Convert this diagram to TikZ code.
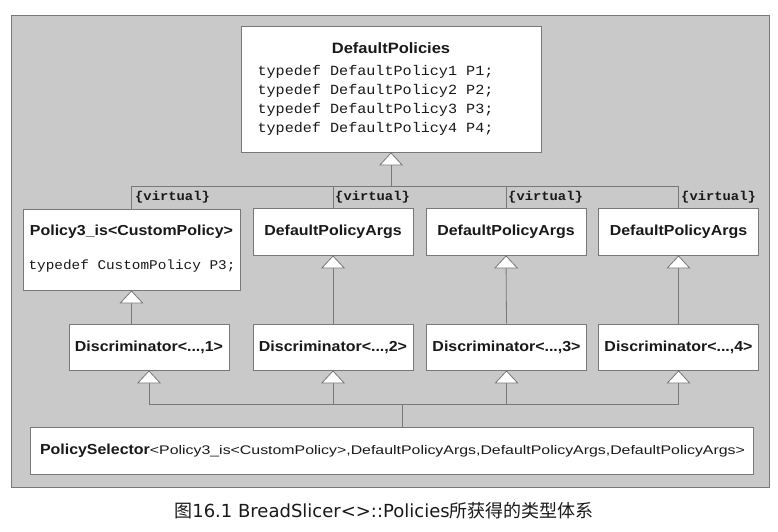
\documentclass[tikz,border=0pt]{standalone}
\usepackage{fontspec}
\usepackage{graphicx}
\setmainfont{Liberation Sans}[FakeStretch=1.1]
\newfontfamily\codefont{Liberation Mono}[FakeStretch=1.08]
\newfontfamily\capfont{DejaVu Sans}
\newfontfamily\cjkfont{Noto Sans CJK SC}
\usetikzlibrary{arrows.meta}
\definecolor{panelgray}{RGB}{201,201,201}
\definecolor{linegray}{RGB}{120,120,120}
\definecolor{textdark}{RGB}{25,25,25}

\begin{document}
\begin{tikzpicture}[x=1pt,y=-1pt,
    cls/.style={draw=linegray, fill=white, line width=0.8pt, inner sep=0pt,
      font=\fontsize{14.5}{17}\selectfont\bfseries, text=textdark},
    code/.style={inner sep=0pt, align=left, text=textdark},
    inherit/.style={draw=linegray, line width=0.8pt,
      -{Triangle[length=13pt,width=24pt,fill=white]}},
    link/.style={draw=linegray, line width=0.8pt},
    virt/.style={anchor=west, inner sep=0pt, text=textdark,
      font=\codefont\bfseries\fontsize{12.8}{14}\selectfont}]
    \useasboundingbox (0,0) rectangle (778,531);
    \draw[linegray, fill=panelgray, line width=0.6pt] (11,15) rectangle (769,487);

    % classes
    \node[cls, minimum width=300pt, minimum height=126pt] (top) at (391,89) {};
    \node[cls, draw=none, fill=none, font=\fontsize{15}{17}\selectfont\bfseries] (toptitle) at (391,48) {DefaultPolicies};
    \node[code, font=\codefont\fontsize{14}{19}\selectfont] (topcode) at (375.5,100.5)
      {typedef DefaultPolicy1 P1;\\typedef DefaultPolicy2 P2;\\
       typedef DefaultPolicy3 P3;\\typedef DefaultPolicy4 P4;};

    \node[cls, minimum width=217pt, minimum height=81pt] (pol3) at (131.5,249.5) {};
    \node[cls, draw=none, fill=none] (pol3title) at (131.5,232) {Policy3\_is<CustomPolicy>};
    \node[code, font=\codefont\fontsize{13.3}{16}\selectfont] (pol3code) at (132,266)
      {typedef CustomPolicy P3;};
    \node[cls, minimum width=160pt, minimum height=47pt] (args2) at (333,231.5) {DefaultPolicyArgs};
    \node[cls, minimum width=160pt, minimum height=47pt] (args3) at (506,231.5) {DefaultPolicyArgs};
    \node[cls, minimum width=160pt, minimum height=47pt] (args4) at (678.5,231.5) {DefaultPolicyArgs};

    \node[cls, minimum width=160pt, minimum height=46pt] (disc1) at (149,347) {Discriminator<...,1>};
    \node[cls, minimum width=160pt, minimum height=46pt] (disc2) at (333,347) {Discriminator<...,2>};
    \node[cls, minimum width=160pt, minimum height=46pt] (disc3) at (506.5,347) {Discriminator<...,3>};
    \node[cls, minimum width=160pt, minimum height=46pt] (disc4) at (678.5,347) {Discriminator<...,4>};

    \node[cls, minimum width=723pt, minimum height=47pt, text width=703pt, align=left] (sel) at (391.5,450.5)
      {PolicySelector\resizebox{595pt}{\height}{\mdseries\fontsize{12.5}{14}\selectfont
       <Policy3\_is<CustomPolicy>,DefaultPolicyArgs,DefaultPolicyArgs,DefaultPolicyArgs>}};

    % virtual inheritance from DefaultPolicies
    \coordinate (hub) at (391,186);
    \draw[inherit] (hub) -- (top.south);
    \draw[link] (pol3.north |- hub) -- (args4.north |- hub);
    \foreach \b in {pol3,args2,args3,args4}
      \draw[link] (\b.north) -- (\b.north |- hub);
    \node[virt] (virt1) at (135,197) {\{virtual\}};
    \node[virt] (virt2) at (335,197) {\{virtual\}};
    \node[virt] (virt3) at (508,197) {\{virtual\}};
    \node[virt] (virt4) at (681,197) {\{virtual\}};

    % discriminators
    \draw[inherit] (disc1.north -| pol3.south) -- (pol3.south);
    \foreach \i in {2,3,4}
      \draw[inherit] (disc\i.north) -- (args\i.south);

    % selector
    \coordinate (bus) at (402,404);
    \draw[link] (bus |- sel.north) -- (bus);
    \draw[link] (disc1.south |- bus) -- (disc4.south |- bus);
    \foreach \i in {1,...,4}
      \draw[inherit] (disc\i.south |- bus) -- (disc\i.south);

    \node[text=textdark, font=\capfont\fontsize{18}{20}\selectfont] (caption) at (384,511)
      {{\cjkfont 图}16.1 BreadSlicer<>::Policies{\cjkfont 所获得的类型体系}};
\end{tikzpicture}
\end{document}
